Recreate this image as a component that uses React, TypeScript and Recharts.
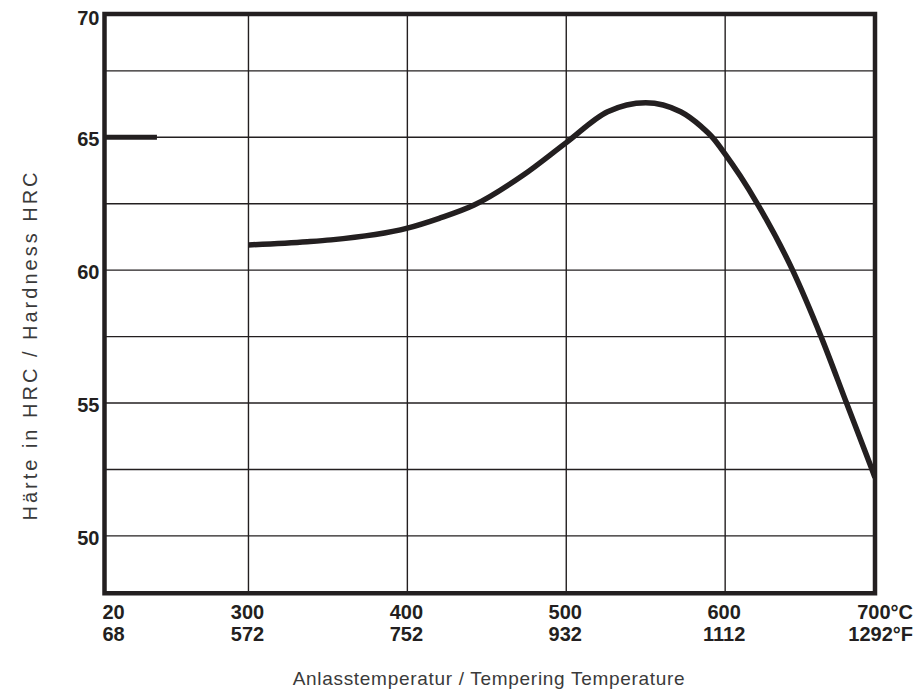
import React from 'react';
import { LineChart, Line, XAxis, YAxis, ReferenceLine, ReferenceArea, Label } from 'recharts';

// Tick labels (°C / °F)
const celsiusLabels = ['20', '300', '400', '500', '600', '700°C'];
const fahrenheitLabels = ['68', '572', '752', '932', '1112', '1292°F'];
const celsiusTicks = [20, 300, 400, 500, 600, 700];

// Hardness axis
const hardnessTicks = [50, 55, 60, 65];
const hardnessGrid = [50, 52.5, 55, 57.5, 60, 62.5, 65, 67.5];
const hardnessDomain = [47.84, 69.64];

// Broken temperature axis: temperature -> axis position
const tempBreaks = [20, 300, 600, 700];
const axisBreaks = [209.4, 300, 600, 694.3];
const toAxis = (t: number) => {
  for (let i = 0; i < tempBreaks.length - 1; i++) {
    if (t <= tempBreaks[i + 1] || i === tempBreaks.length - 2) {
      const f = (t - tempBreaks[i]) / (tempBreaks[i + 1] - tempBreaks[i]);
      return axisBreaks[i] + f * (axisBreaks[i + 1] - axisBreaks[i]);
    }
  }
  return t;
};

// As-quenched hardness segment
const quenchTemp = [20, 122];
const quenchHardness = [65, 65];

// Tempering curve
const curveTemp = [300, 337, 352, 400, 420, 442, 473, 500, 526, 550, 572, 585, 592, 600, 610, 622, 645, 664, 681, 697, 700];
const curveHardness = [60.95, 61.07, 61.14, 61.58, 61.95, 62.45, 63.58, 64.8, 65.96, 66.3, 65.96, 65.4, 65.0, 64.37, 63.55, 62.45, 60.0, 57.5, 55.0, 52.65, 52.2];

const quenchData = quenchTemp.map((t, i) => ({ t, h: quenchHardness[i] }));
const curveData = curveTemp.map((t, i) => ({ t, h: curveHardness[i] }));

const xTickPositions = celsiusTicks.map(toAxis);
const xDomain = [axisBreaks[0], axisBreaks[axisBreaks.length - 1]];
const yTicks = [...hardnessTicks, hardnessDomain[1]];

const INK = '#231f20';
const FONT = '"Liberation Sans", Arial, Helvetica, sans-serif';

const XTick = (props: any) => {
  const { x, y, payload } = props;
  const idx = xTickPositions.findIndex((p) => Math.abs(p - payload.value) < 0.01);
  if (idx < 0) return null;
  const last = xTickPositions.length - 1;
  const anchor = idx === 0 ? 'start' : idx === last ? 'end' : 'middle';
  const dx = idx === 0 ? -2 : idx === last ? 38 : -1;
  return (
    <g>
      <text x={x + dx} y={y + 26} textAnchor={anchor} fontFamily={FONT} fontWeight="bold" fontSize={20} fill={INK}>
        {celsiusLabels[idx]}
      </text>
      <text x={x + dx} y={y + 47.5} textAnchor={anchor} fontFamily={FONT} fontWeight="bold" fontSize={20} fill={INK}>
        {fahrenheitLabels[idx]}
      </text>
    </g>
  );
};

const YTick = (props: any) => {
  const { x, y, payload } = props;
  const isTop = payload.value > 69;
  const label = isTop ? '70' : String(payload.value);
  return (
    <text x={x - 5} y={y + (isTop ? 4 : 2)} dominantBaseline="central" textAnchor="end" fontFamily={FONT} fontWeight="bold" fontSize={20} fill={INK}>
      {label}
    </text>
  );
};

export default function App() {
  return (
    <div style={{ position: 'absolute', left: 0, top: 0, width: 923, height: 691, background: '#fff' }}>
      <LineChart width={923} height={691} margin={{ top: 14, right: 48, bottom: 0, left: 0 }}>
        <XAxis
          type="number"
          dataKey={(d: any) => toAxis(d.t)}
          domain={xDomain}
          ticks={xTickPositions}
          interval={0}
          axisLine={false}
          tickLine={false}
          tickSize={0}
          tickMargin={0}
          height={97.7}
          tick={<XTick />}
          allowDataOverflow
        >
          <Label
            content={() => (
              <text x={489} y={685} textAnchor="middle" fontFamily={FONT} fontSize={19} letterSpacing={0.7} fill="#3a3a3a">
                Anlasstemperatur / Tempering Temperature
              </text>
            )}
          />
        </XAxis>
        <YAxis
          type="number"
          dataKey="h"
          domain={hardnessDomain}
          ticks={yTicks}
          interval={0}
          axisLine={false}
          tickLine={false}
          tickSize={0}
          tickMargin={0}
          width={104.5}
          tick={<YTick />}
          allowDataOverflow
        >
          <Label
            content={() => (
              <text x={30} y={345} transform="rotate(-90, 30, 345)" textAnchor="middle" dominantBaseline="central" fontFamily={FONT} fontSize={20} letterSpacing={3} fill="#3a3a3a">
                Härte in HRC / Hardness HRC
              </text>
            )}
          />
        </YAxis>
        {hardnessGrid.map((v) => (
          <ReferenceLine key={'h' + v} y={v} stroke={INK} strokeWidth={1.4} />
        ))}
        {celsiusTicks.slice(1, -1).map((t) => (
          <ReferenceLine key={'v' + t} x={toAxis(t)} stroke={INK} strokeWidth={1.4} />
        ))}
        <ReferenceArea
          x1={xDomain[0]}
          x2={xDomain[1]}
          y1={hardnessDomain[0]}
          y2={hardnessDomain[1]}
          fill="none"
          fillOpacity={0}
          stroke={INK}
          strokeWidth={4.5}
        />
        <Line
          data={quenchData}
          dataKey="h"
          type="linear"
          stroke={INK}
          strokeWidth={5}
          dot={false}
          activeDot={false}
          isAnimationActive={false}
        />
        <Line
          data={curveData}
          dataKey="h"
          type="monotone"
          stroke={INK}
          strokeWidth={5.5}
          dot={false}
          activeDot={false}
          isAnimationActive={false}
        />
      </LineChart>
    </div>
  );
}
